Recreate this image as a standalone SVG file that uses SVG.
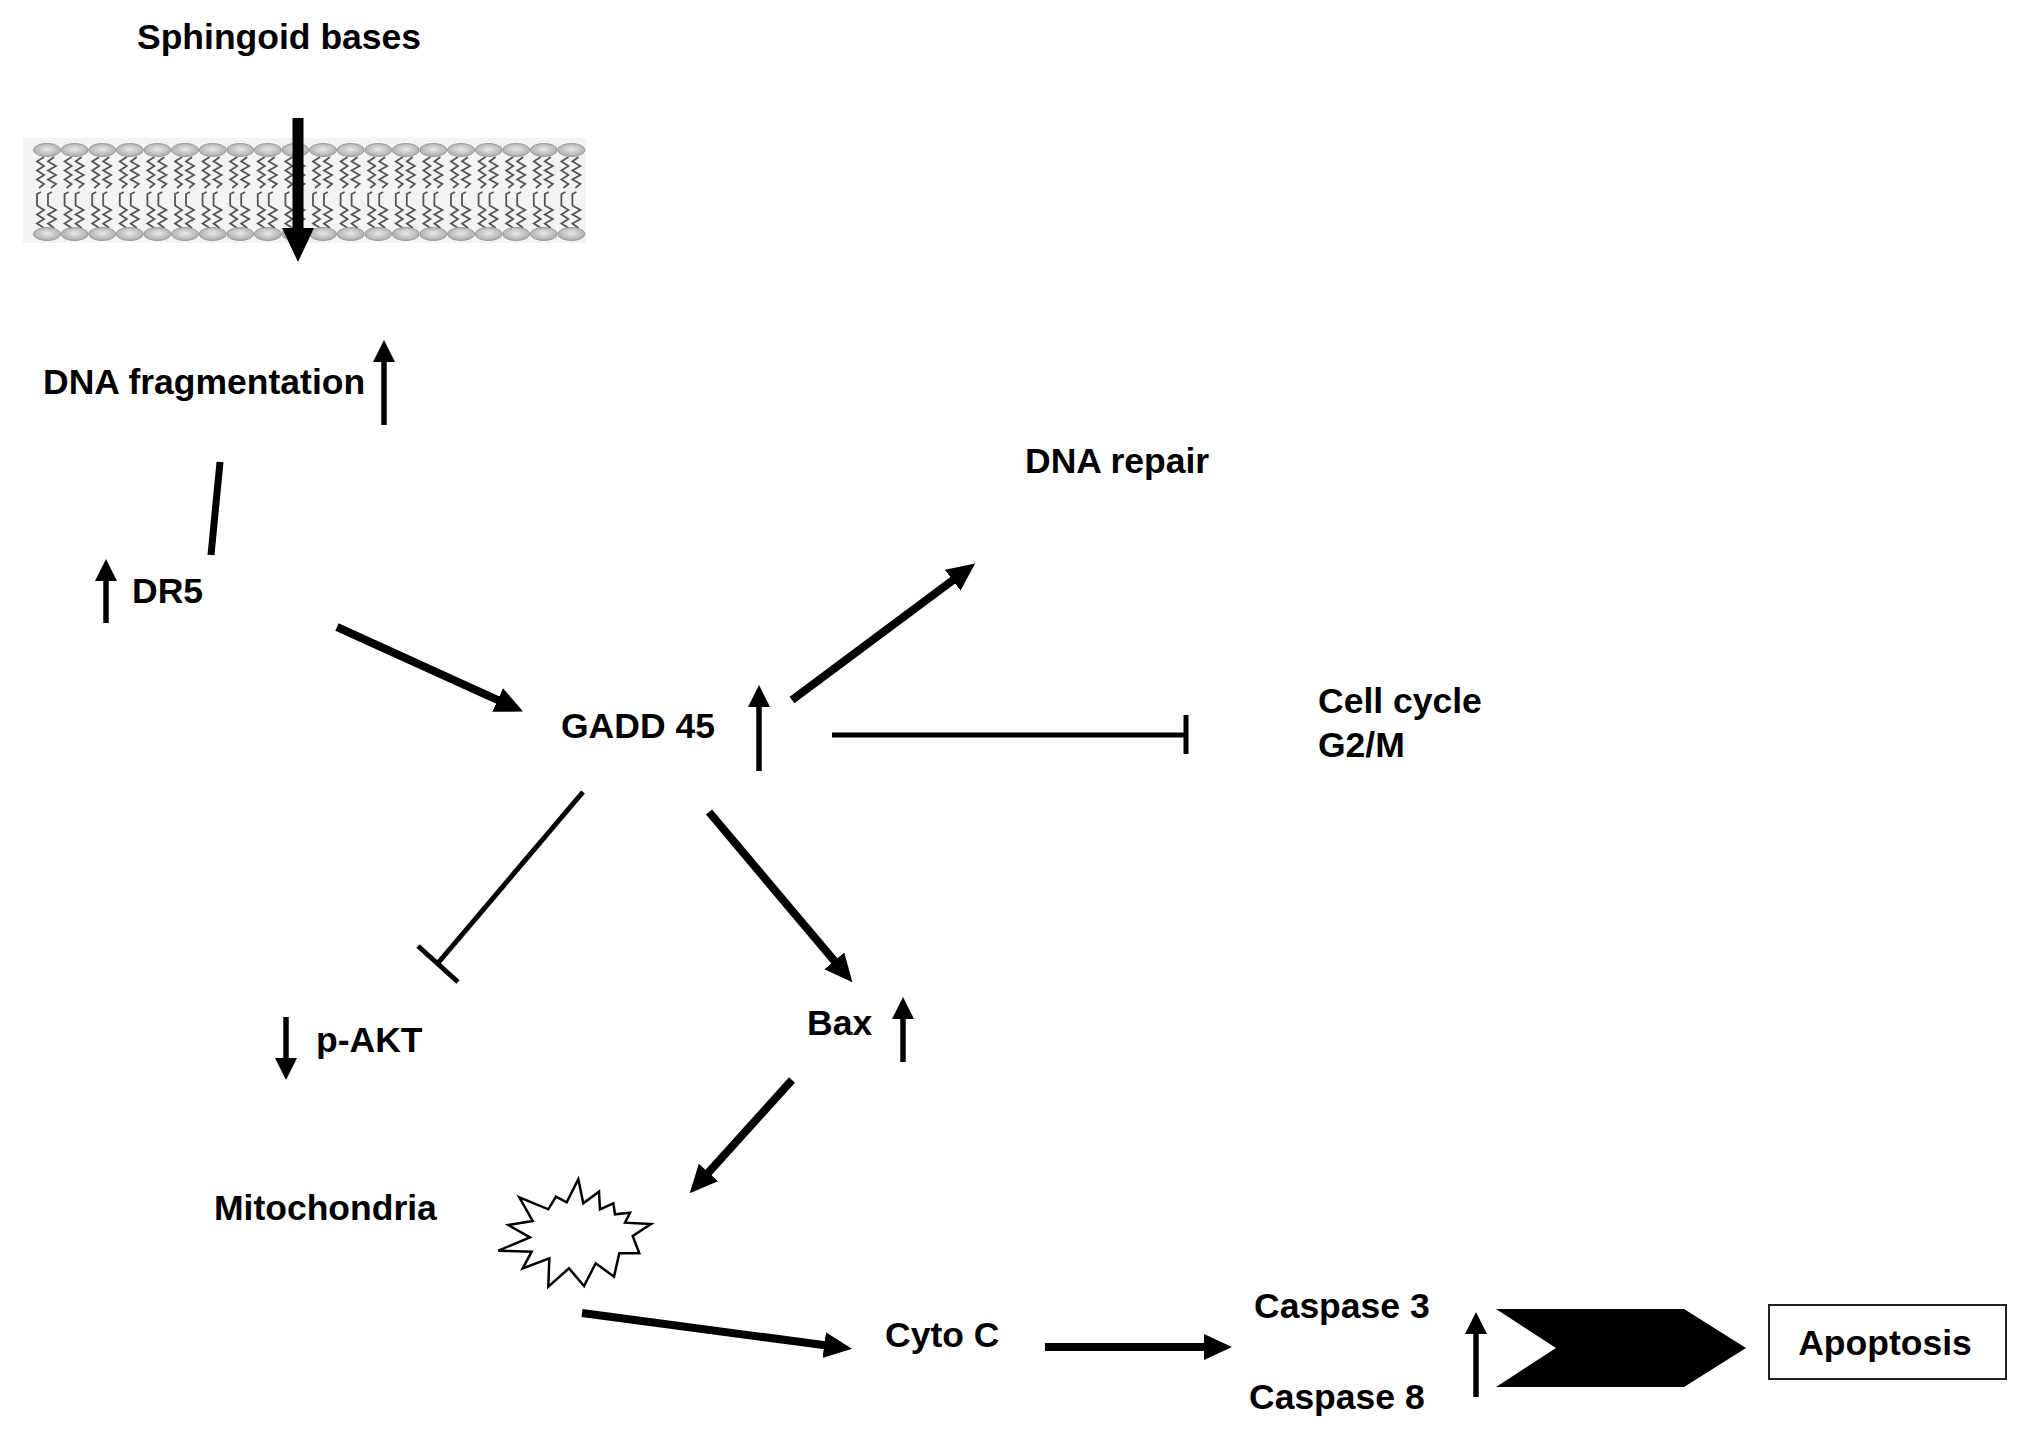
<svg xmlns="http://www.w3.org/2000/svg" xmlns:xlink="http://www.w3.org/1999/xlink" width="2031" height="1443" viewBox="0 0 2031 1443">
<style>
.t{font-family:"Liberation Sans",Arial,sans-serif;font-weight:bold;font-size:35.5px;fill:#000}
.thick{stroke:#000;stroke-width:8;fill:none}
.thin{stroke:#000;stroke-width:5.5;fill:none}
.inh{stroke:#000;stroke-width:5;fill:none}
.tail{fill:none;stroke:#555;stroke-width:1.8;stroke-linejoin:miter}
.head{fill:url(#hg);stroke:#9a9a9a;stroke-width:1}
</style>
<defs>
<radialGradient id="hg" cx="0.5" cy="0.45" r="0.6">
<stop offset="0" stop-color="#e8e8e8"/>
<stop offset="1" stop-color="#a6a6a6"/>
</radialGradient>
<marker id="ah" markerUnits="userSpaceOnUse" markerWidth="30" markerHeight="28" viewBox="0 -14 30 28" refX="1" refY="0" orient="auto">
<path d="M0,-13 L28,0 L0,13 z" fill="#000"/>
</marker>
<marker id="sh" markerUnits="userSpaceOnUse" markerWidth="24" markerHeight="24" viewBox="0 -12 24 24" refX="1" refY="0" orient="auto">
<path d="M0,-11 L22,0 L0,11 z" fill="#000"/>
</marker>
<marker id="mh" markerUnits="userSpaceOnUse" markerWidth="36" markerHeight="34" viewBox="0 -17 36 34" refX="1" refY="0" orient="auto">
<path d="M0,-16 L34,0 L0,16 z" fill="#000"/>
</marker>
<g id="lipid">
<path class="tail" d="M-3,157 L-10,161.5 L-3,166 L-10,170.5 L-3,175 L-10,179.5 L-3,184 L-8,188"/>
<path class="tail" d="M7,157 L1,161.5 L9,166 L1,170.5 L9,175 L1,179.5 L9,184 L4,188"/>
<path class="tail" d="M-3,228 L-10,223.5 L-3,219 L-10,214.5 L-3,210 L-10,205.5 L-10,194 L-6,192"/>
<path class="tail" d="M7,228 L1,223.5 L9,219 L1,214.5 L9,210 L1,205.5 L1,194 L5,192"/>
<ellipse class="head" cx="0" cy="150" rx="13.5" ry="6.5"/>
<ellipse class="head" cx="0" cy="234" rx="13.5" ry="6.5"/>
</g>
</defs>
<rect width="2031" height="1443" fill="#fff"/>

<g id="membrane">
<rect x="23" y="138" width="563" height="105" fill="#f3f3f3"/>
<use xlink:href="#lipid" x="47"/>
<use xlink:href="#lipid" x="74.6"/>
<use xlink:href="#lipid" x="102.2"/>
<use xlink:href="#lipid" x="129.8"/>
<use xlink:href="#lipid" x="157.4"/>
<use xlink:href="#lipid" x="185"/>
<use xlink:href="#lipid" x="212.6"/>
<use xlink:href="#lipid" x="240.2"/>
<use xlink:href="#lipid" x="267.8"/>
<use xlink:href="#lipid" x="295.4"/>
<use xlink:href="#lipid" x="323"/>
<use xlink:href="#lipid" x="350.6"/>
<use xlink:href="#lipid" x="378.2"/>
<use xlink:href="#lipid" x="405.8"/>
<use xlink:href="#lipid" x="433.4"/>
<use xlink:href="#lipid" x="461"/>
<use xlink:href="#lipid" x="488.6"/>
<use xlink:href="#lipid" x="516.2"/>
<use xlink:href="#lipid" x="543.8"/>
<use xlink:href="#lipid" x="571.4"/>
</g>

<g id="sphingoid">
<text class="t" x="137" y="49">Sphingoid bases</text>
</g>

<g id="dnafrag">
<text class="t" x="43" y="394">DNA fragmentation</text>
<line class="thin" x1="384" y1="425" x2="384" y2="361" marker-end="url(#sh)"/>
</g>

<g id="dr5">
<line class="thin" x1="106" y1="623" x2="106" y2="580" marker-end="url(#sh)"/>
<text class="t" x="132" y="603">DR5</text>
</g>

<g id="gadd45">
<text class="t" x="561" y="738">GADD 45</text>
<line class="thin" x1="759" y1="771" x2="759" y2="706" marker-end="url(#sh)"/>
</g>

<g id="dnarepair">
<text class="t" x="1025" y="473">DNA repair</text>
</g>

<g id="cellcycle">
<text class="t" x="1318" y="713">Cell cycle</text>
<text class="t" x="1318" y="757">G2/M</text>
</g>

<g id="pakt">
<line class="thin" x1="286" y1="1017" x2="286" y2="1059" marker-end="url(#sh)"/>
<text class="t" x="316" y="1052">p-AKT</text>
</g>

<g id="bax">
<text class="t" x="807" y="1035">Bax</text>
<line class="thin" x1="903" y1="1062" x2="903" y2="1018" marker-end="url(#sh)"/>
</g>

<g id="mitochondria">
<text class="t" x="214" y="1220">Mitochondria</text>
<polygon points="498.3,1250.7 530,1237.3 508.3,1225 532.7,1221 519.3,1197.3 548.3,1209.3 556,1196.7 566.7,1202.3 578.3,1179.3 583.3,1203.3 599,1191.7 600,1209.3 613.3,1203.3 615,1214.3 630,1212.7 625,1222.7 651,1224 632.7,1236 639.3,1253.3 619.3,1253.3 614,1276.7 595.7,1263.3 584,1286 569,1268.3 548.3,1286.7 549.3,1258.3 522.7,1268.3 531.7,1251.7" fill="#fff" stroke="#000" stroke-width="2.5" stroke-linejoin="miter"/>
</g>

<g id="cytoc">
<text class="t" x="885" y="1347">Cyto C</text>
</g>

<g id="caspases">
<text class="t" x="1254" y="1318">Caspase 3</text>
<text class="t" x="1249" y="1409">Caspase 8</text>
<line class="thin" x1="1476" y1="1397" x2="1476" y2="1333" marker-end="url(#sh)"/>
</g>

<g id="apoptosis">
<rect x="1769" y="1305" width="237" height="74" fill="#fff" stroke="#222" stroke-width="2"/>
<text class="t" x="1885" y="1355" text-anchor="middle">Apoptosis</text>
</g>

<g id="connectors">
<line x1="298" y1="118" x2="298" y2="229" stroke="#000" stroke-width="11" marker-end="url(#mh)"/>
<line x1="220" y1="462" x2="211" y2="555" stroke="#000" stroke-width="7"/>
<line class="thick" x1="337" y1="627" x2="498.5" y2="700.4" marker-end="url(#ah)"/>
<line class="thick" x1="792" y1="700" x2="953.5" y2="579.7" marker-end="url(#ah)"/>
<line class="inh" x1="832" y1="735" x2="1186" y2="735"/>
<line class="inh" x1="1186" y1="715" x2="1186" y2="754"/>
<line class="inh" x1="583" y1="792" x2="438" y2="963"/>
<line class="inh" x1="418" y1="946" x2="458" y2="982"/>
<line class="thick" x1="709" y1="812" x2="835" y2="961.6" marker-end="url(#ah)"/>
<line class="thick" x1="792" y1="1080" x2="707.8" y2="1173.2" marker-end="url(#ah)"/>
<line class="thick" x1="582" y1="1313" x2="825.2" y2="1345.3" marker-end="url(#ah)"/>
<line class="thick" x1="1045" y1="1347" x2="1205" y2="1347" marker-end="url(#ah)"/>
<polygon points="1496,1309 1684,1309 1746,1348 1684,1387 1496,1387 1556,1348" fill="#000"/>
</g>
</svg>
